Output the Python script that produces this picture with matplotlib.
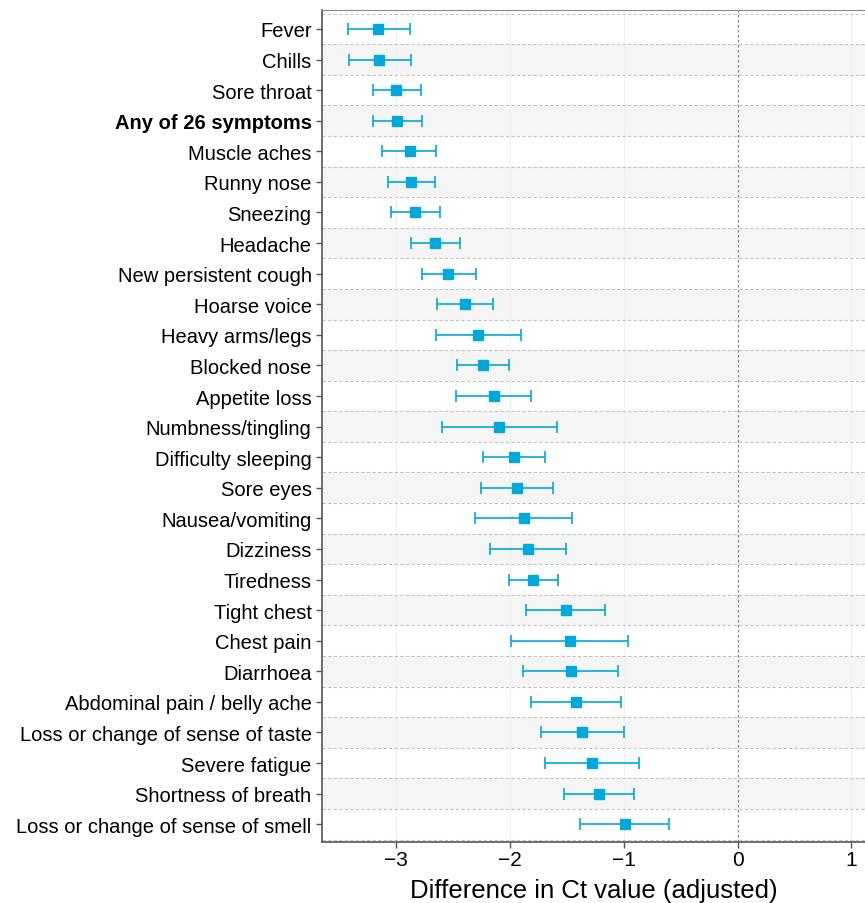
import matplotlib
matplotlib.use("Agg")
import matplotlib.pyplot as plt
import numpy as np

plt.rcParams['font.family'] = ['Liberation Sans', 'DejaVu Sans']

symptoms = ["Fever", "Chills", "Sore throat", "Any of 26 symptoms", "Muscle aches",
            "Runny nose", "Sneezing", "Headache", "New persistent cough", "Hoarse voice",
            "Heavy arms/legs", "Blocked nose", "Appetite loss", "Numbness/tingling",
            "Difficulty sleeping", "Sore eyes", "Nausea/vomiting", "Dizziness", "Tiredness",
            "Tight chest", "Chest pain", "Diarrhoea", "Abdominal pain / belly ache",
            "Loss or change of sense of taste", "Severe fatigue", "Shortness of breath",
            "Loss or change of sense of smell"]
est = [-3.155, -3.146, -3.00, -2.99, -2.88, -2.865, -2.83, -2.655, -2.54, -2.39,
       -2.28, -2.235, -2.136, -2.093, -1.96, -1.935, -1.874, -1.84, -1.795,
       -1.51, -1.47, -1.46, -1.417, -1.365, -1.276, -1.215, -0.99]
lower = [-3.42, -3.41, -3.20, -3.20, -3.12, -3.07, -3.045, -2.87, -2.77, -2.64,
         -2.65, -2.46, -2.47, -2.60, -2.235, -2.25, -2.31, -2.17, -2.01,
         -1.86, -1.99, -1.88, -1.81, -1.73, -1.69, -1.52, -1.38]
upper = [-2.88, -2.87, -2.78, -2.77, -2.65, -2.655, -2.615, -2.44, -2.30, -2.145,
         -1.90, -2.005, -1.81, -1.59, -1.69, -1.62, -1.45, -1.505, -1.58,
         -1.16, -0.96, -1.05, -1.026, -1.00, -0.865, -0.91, -0.605]
xticks = [-3, -2, -1, 0, 1]

est = np.array(est)
lower = np.array(lower)
upper = np.array(upper)
y = np.arange(len(symptoms))
col = '#00a9d9'

fig = plt.figure(figsize=(8.65, 9.04), dpi=100)
ax = fig.add_axes([322 / 865, 1 - 843 / 904, 1 - 322 / 865, (843 - 11) / 904])

# alternating row bands and dashed separators
for i in y:
    if i % 2 == 1:
        ax.axhspan(i - 0.5, i + 0.5, color='#f5f5f5', zorder=0, lw=0)
for b in np.arange(-0.5, len(symptoms), 1.0):
    ax.axhline(b, color='#c4c4c4', ls=(0, (3, 2)), lw=0.8, zorder=1)

for t in xticks:
    ax.axvline(t, color='#f0f0f0', lw=0.8, zorder=0.5)
ax.axvline(0, color='#888888', ls=(0, (2, 2)), lw=0.9, zorder=1.5)

ax.errorbar(est, y, xerr=[est - lower, upper - est], fmt='s', color=col,
            ecolor=col, elinewidth=1.2, capsize=4, capthick=1.2, markersize=6.5,
            zorder=3)

ax.set_xlim(-3.65, 1.12)
ax.set_ylim(len(symptoms) - 0.42, -0.62)
ax.set_yticks(y)
ax.set_yticklabels(symptoms, fontsize=14.5)
ax.get_yticklabels()[3].set_fontweight('bold')
ax.set_xticks(xticks)
ax.set_xticklabels(['\u22123', '\u22122', '\u22121', '0', '1'], fontsize=15)
ax.set_xlabel('Difference in Ct value (adjusted)', fontsize=18.5, labelpad=6)
ax.tick_params(axis='both', direction='out', length=4, color='#555555', width=1)
ax.tick_params(axis='x', pad=2)

ax.spines['right'].set_visible(False)
ax.spines['top'].set_color('#888888')
ax.spines['top'].set_linewidth(0.8)
ax.spines['left'].set_color('#555555')
ax.spines['bottom'].set_color('#555555')
ax.spines['left'].set_linewidth(1.2)
ax.spines['bottom'].set_linewidth(1.2)

fig.savefig('out.png', dpi=100)
